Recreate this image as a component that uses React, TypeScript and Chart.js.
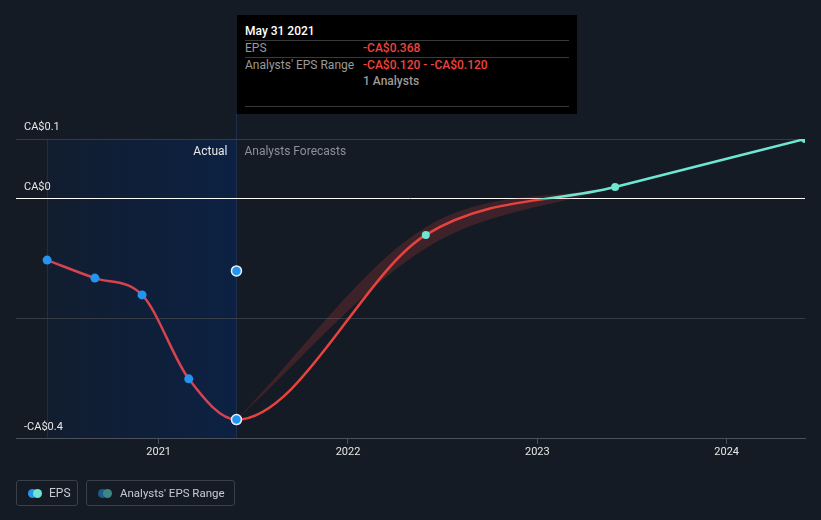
import React, { useEffect, useRef } from "react";
import { Chart, registerables } from "chart.js";

Chart.register(...registerables);

// ---- data ----
const actualDates = ["2020-05-31", "2020-08-31", "2020-11-30", "2021-02-28", "2021-05-31"];
const actualEps = [-0.102, -0.132, -0.16, -0.3, -0.368];
const forecastDates = ["2022-05-31", "2023-05-31", "2024-05-31"];
const forecastEps = [-0.06, 0.02, 0.1];
const rangeDates = ["2021-05-31", "2022-05-31", "2023-05-31"];
const rangeHigh = [-0.368, -0.047, 0.02];
const rangeLow = [-0.368, -0.082, 0.02];
const analystDates = ["2021-05-31"];
const analystEps = [-0.12];
const yearTicks = [2021, 2022, 2023, 2024];
const yTickValues = [-0.4, -0.2, 0, 0.1];
const yTickLabels = ["-CA$0.4", "", "CA$0", "CA$0.1"];
const xMin = "2020-04-01";
const xMax = "2024-05-31";

const ts = (s: string) => Date.parse(s + "T00:00:00Z");

const BG = "#151b24";
const BLUE = "#2394f0";
const CYAN = "#6ee6d2";
const RED = "#e8423f";
const ACTUAL_RED = "#d6434f";
const FONT = "Roboto, 'Open Sans', sans-serif";

const forecastColor = (ctx: any) => {
  const chart = ctx.chart;
  const area = chart.chartArea;
  if (!area) return RED;
  const zero = chart.scales.y.getPixelForValue(0);
  const g = chart.ctx.createLinearGradient(0, area.top, 0, area.bottom);
  const stop = Math.min(1, Math.max(0, (zero - area.top) / (area.bottom - area.top)));
  g.addColorStop(0, CYAN);
  g.addColorStop(stop, CYAN);
  g.addColorStop(stop, RED);
  g.addColorStop(1, RED);
  return g;
};

const regionPlugin = {
  id: "actualRegion",
  beforeDraw(chart: any) {
    const { ctx, chartArea, scales } = chart;
    const x0 = scales.x.getPixelForValue(ts(actualDates[0]));
    const x1 = scales.x.getPixelForValue(ts(actualDates[actualDates.length - 1]));
    ctx.save();
    const g = ctx.createLinearGradient(x0, 0, x1, 0);
    g.addColorStop(0, "#121d2f");
    g.addColorStop(1, "#0c2143");
    ctx.fillStyle = g;
    ctx.fillRect(x0, chartArea.top, x1 - x0, chartArea.bottom - chartArea.top);
    ctx.strokeStyle = "#1c2f4e";
    ctx.lineWidth = 1;
    ctx.beginPath();
    ctx.moveTo(Math.round(x0) + 0.5, chartArea.top);
    ctx.lineTo(Math.round(x0) + 0.5, chartArea.bottom);
    ctx.moveTo(Math.round(x1) + 0.5, 114);
    ctx.lineTo(Math.round(x1) + 0.5, chartArea.bottom);
    ctx.stroke();
    ctx.font = `12px ${FONT}`;
    ctx.textBaseline = "middle";
    ctx.textAlign = "right";
    ctx.fillStyle = "#e8e8e8";
    ctx.fillText("Actual", x1 - 9, chartArea.top + 13);
    ctx.textAlign = "left";
    ctx.fillStyle = "#8b9099";
    ctx.fillText("Analysts Forecasts", x1 + 8, chartArea.top + 13);
    ctx.restore();
  },
};

export default function App() {
  const canvasRef = useRef<HTMLCanvasElement>(null);

  useEffect(() => {
    const canvas = canvasRef.current;
    if (!canvas) return;
    const nA = actualDates.length;
    const epsData = [
      ...actualDates.map((d, i) => ({ x: ts(d), y: actualEps[i] })),
      ...forecastDates.map((d, i) => ({ x: ts(d), y: forecastEps[i] })),
    ];
    const pointBg = epsData.map((_, i) => (i < nA ? BLUE : CYAN));
    const pointBorder = epsData.map((_, i) => (i === nA - 1 ? "#e6f0fa" : i < nA ? BLUE : CYAN));
    const pointBorderW = epsData.map((_, i) => (i === nA - 1 ? 1.5 : 0));
    const pointR = epsData.map((_, i) => (i === nA - 1 ? 5 : i < nA ? 4.5 : 4));

    const chart = new Chart(canvas, {
      type: "line",
      data: {
        datasets: [
          {
            label: "EPS",
            data: epsData,
            borderColor: RED,
            borderWidth: 2.5,
            cubicInterpolationMode: "monotone",
            pointBackgroundColor: pointBg,
            pointBorderColor: pointBorder,
            pointBorderWidth: pointBorderW,
            pointRadius: pointR,
            fill: false,
            segment: {
              borderColor: (ctx: any) => (ctx.p0DataIndex < nA - 1 ? ACTUAL_RED : forecastColor(ctx)),
            },
          } as any,
          {
            label: "Analysts' EPS",
            data: analystDates.map((d, i) => ({ x: ts(d), y: analystEps[i] })),
            showLine: false,
            pointBackgroundColor: BLUE,
            pointBorderColor: "#e6f0fa",
            pointBorderWidth: 1.5,
            pointRadius: 5,
          },
          {
            label: "Range high",
            data: rangeDates.map((d, i) => ({ x: ts(d), y: rangeHigh[i] })),
            borderWidth: 0,
            borderColor: "rgba(0,0,0,0)",
            pointRadius: 0,
            cubicInterpolationMode: "monotone",
            backgroundColor: "rgba(229,64,64,0.2)",
            fill: "+1",
          },
          {
            label: "Range low",
            data: rangeDates.map((d, i) => ({ x: ts(d), y: rangeLow[i] })),
            borderWidth: 0,
            borderColor: "rgba(0,0,0,0)",
            pointRadius: 0,
            cubicInterpolationMode: "monotone",
            fill: false,
          },
        ],
      },
      options: {
        animation: false,
        responsive: false,
        events: [],
        layout: { padding: { top: 139, left: 0, right: 16, bottom: 59 } },
        plugins: { legend: { display: false }, tooltip: { enabled: false } },
        scales: {
          x: {
            type: "linear",
            min: ts(xMin),
            max: ts(xMax),
            afterBuildTicks: (axis: any) => {
              axis.ticks = yearTicks.map((y) => ({ value: Date.UTC(y, 0, 1) }));
            },
            ticks: {
              autoSkip: false,
              maxRotation: 0,
              padding: 2,
              color: "#e6e6e6",
              font: { family: FONT, size: 11 },
              callback: (v: any) => String(new Date(v).getUTCFullYear()),
            },
            grid: { drawOnChartArea: false, drawTicks: true, tickLength: 5, color: "#4b515b" },
            border: { display: true, color: "#4b515b" },
          },
          y: {
            min: -0.4,
            max: 0.1,
            afterBuildTicks: (axis: any) => {
              axis.ticks = yTickValues.map((v) => ({ value: v }));
            },
            ticks: {
              mirror: true,
              padding: 8,
              labelOffset: -12,
              color: "#e6e6e6",
              font: { family: FONT, size: 11 },
              callback: (v: any) => {
                const i = yTickValues.findIndex((t) => Math.abs(t - v) < 1e-9);
                return i >= 0 ? yTickLabels[i] : "";
              },
            },
            grid: {
              drawTicks: false,
              color: (c: any) => (c.tick && Math.abs(c.tick.value) < 1e-9 ? "#ffffff" : "#363c46"),
            },
            border: { display: false },
          },
        },
      },
      plugins: [regionPlugin],
    } as any);
    return () => chart.destroy();
  }, []);

  const label = { position: "absolute" as const, fontSize: 12, lineHeight: "14px", whiteSpace: "nowrap" as const };
  const sep = { position: "absolute" as const, left: 8, width: 324, height: 1, background: "#3a3a3a" };

  return (
    <div style={{ position: "fixed", left: 0, top: 0, width: 821, height: 520, background: BG, fontFamily: FONT, overflow: "hidden" }}>
      <canvas ref={canvasRef} width={821} height={520} style={{ position: "absolute", left: 0, top: 0 }} />
      <div style={{ position: "absolute", left: 237, top: 15, width: 340, height: 99, background: "#000" }}>
        <div style={{ ...label, left: 8, top: 9, color: "#ffffff", fontWeight: 500 }}>May 31 2021</div>
        <div style={{ ...sep, top: 25 }} />
        <div style={{ ...label, left: 8, top: 26, color: "#9a9a9a" }}>EPS</div>
        <div style={{ ...label, left: 126, top: 26, color: "#f0433f", fontWeight: 500 }}>-CA$0.368</div>
        <div style={{ ...sep, top: 42 }} />
        <div style={{ ...label, left: 8, top: 43, color: "#9a9a9a" }}>Analysts' EPS Range</div>
        <div style={{ ...label, left: 126, top: 43, color: "#f0433f", fontWeight: 500 }}>-CA$0.120 - -CA$0.120</div>
        <div style={{ ...label, left: 126, top: 59, color: "#9a9a9a", fontWeight: 500 }}>1 Analysts</div>
        <div style={{ ...sep, top: 91 }} />
      </div>
      <div style={{ position: "absolute", left: 16, top: 480, width: 62, height: 26, border: "1px solid #3a404a", borderRadius: 3, boxSizing: "border-box" }}>
        <span style={{ position: "absolute", left: 11, top: 8, width: 9, height: 9, borderRadius: "50%", background: BLUE }} />
        <span style={{ position: "absolute", left: 16, top: 8, width: 9, height: 9, borderRadius: "50%", background: CYAN }} />
        <span style={{ ...label, left: 32, top: 5, color: "#c7cbd1" }}>EPS</span>
      </div>
      <div style={{ position: "absolute", left: 86, top: 480, width: 149, height: 26, border: "1px solid #3a404a", borderRadius: 3, boxSizing: "border-box" }}>
        <span style={{ position: "absolute", left: 11, top: 8, width: 9, height: 9, borderRadius: "50%", background: "#1d5a8c" }} />
        <span style={{ position: "absolute", left: 16, top: 8, width: 9, height: 9, borderRadius: "50%", background: "#3e8686" }} />
        <span style={{ ...label, left: 33, top: 5, color: "#c7cbd1", fontSize: 11.5 }}>Analysts' EPS Range</span>
      </div>
    </div>
  );
}
